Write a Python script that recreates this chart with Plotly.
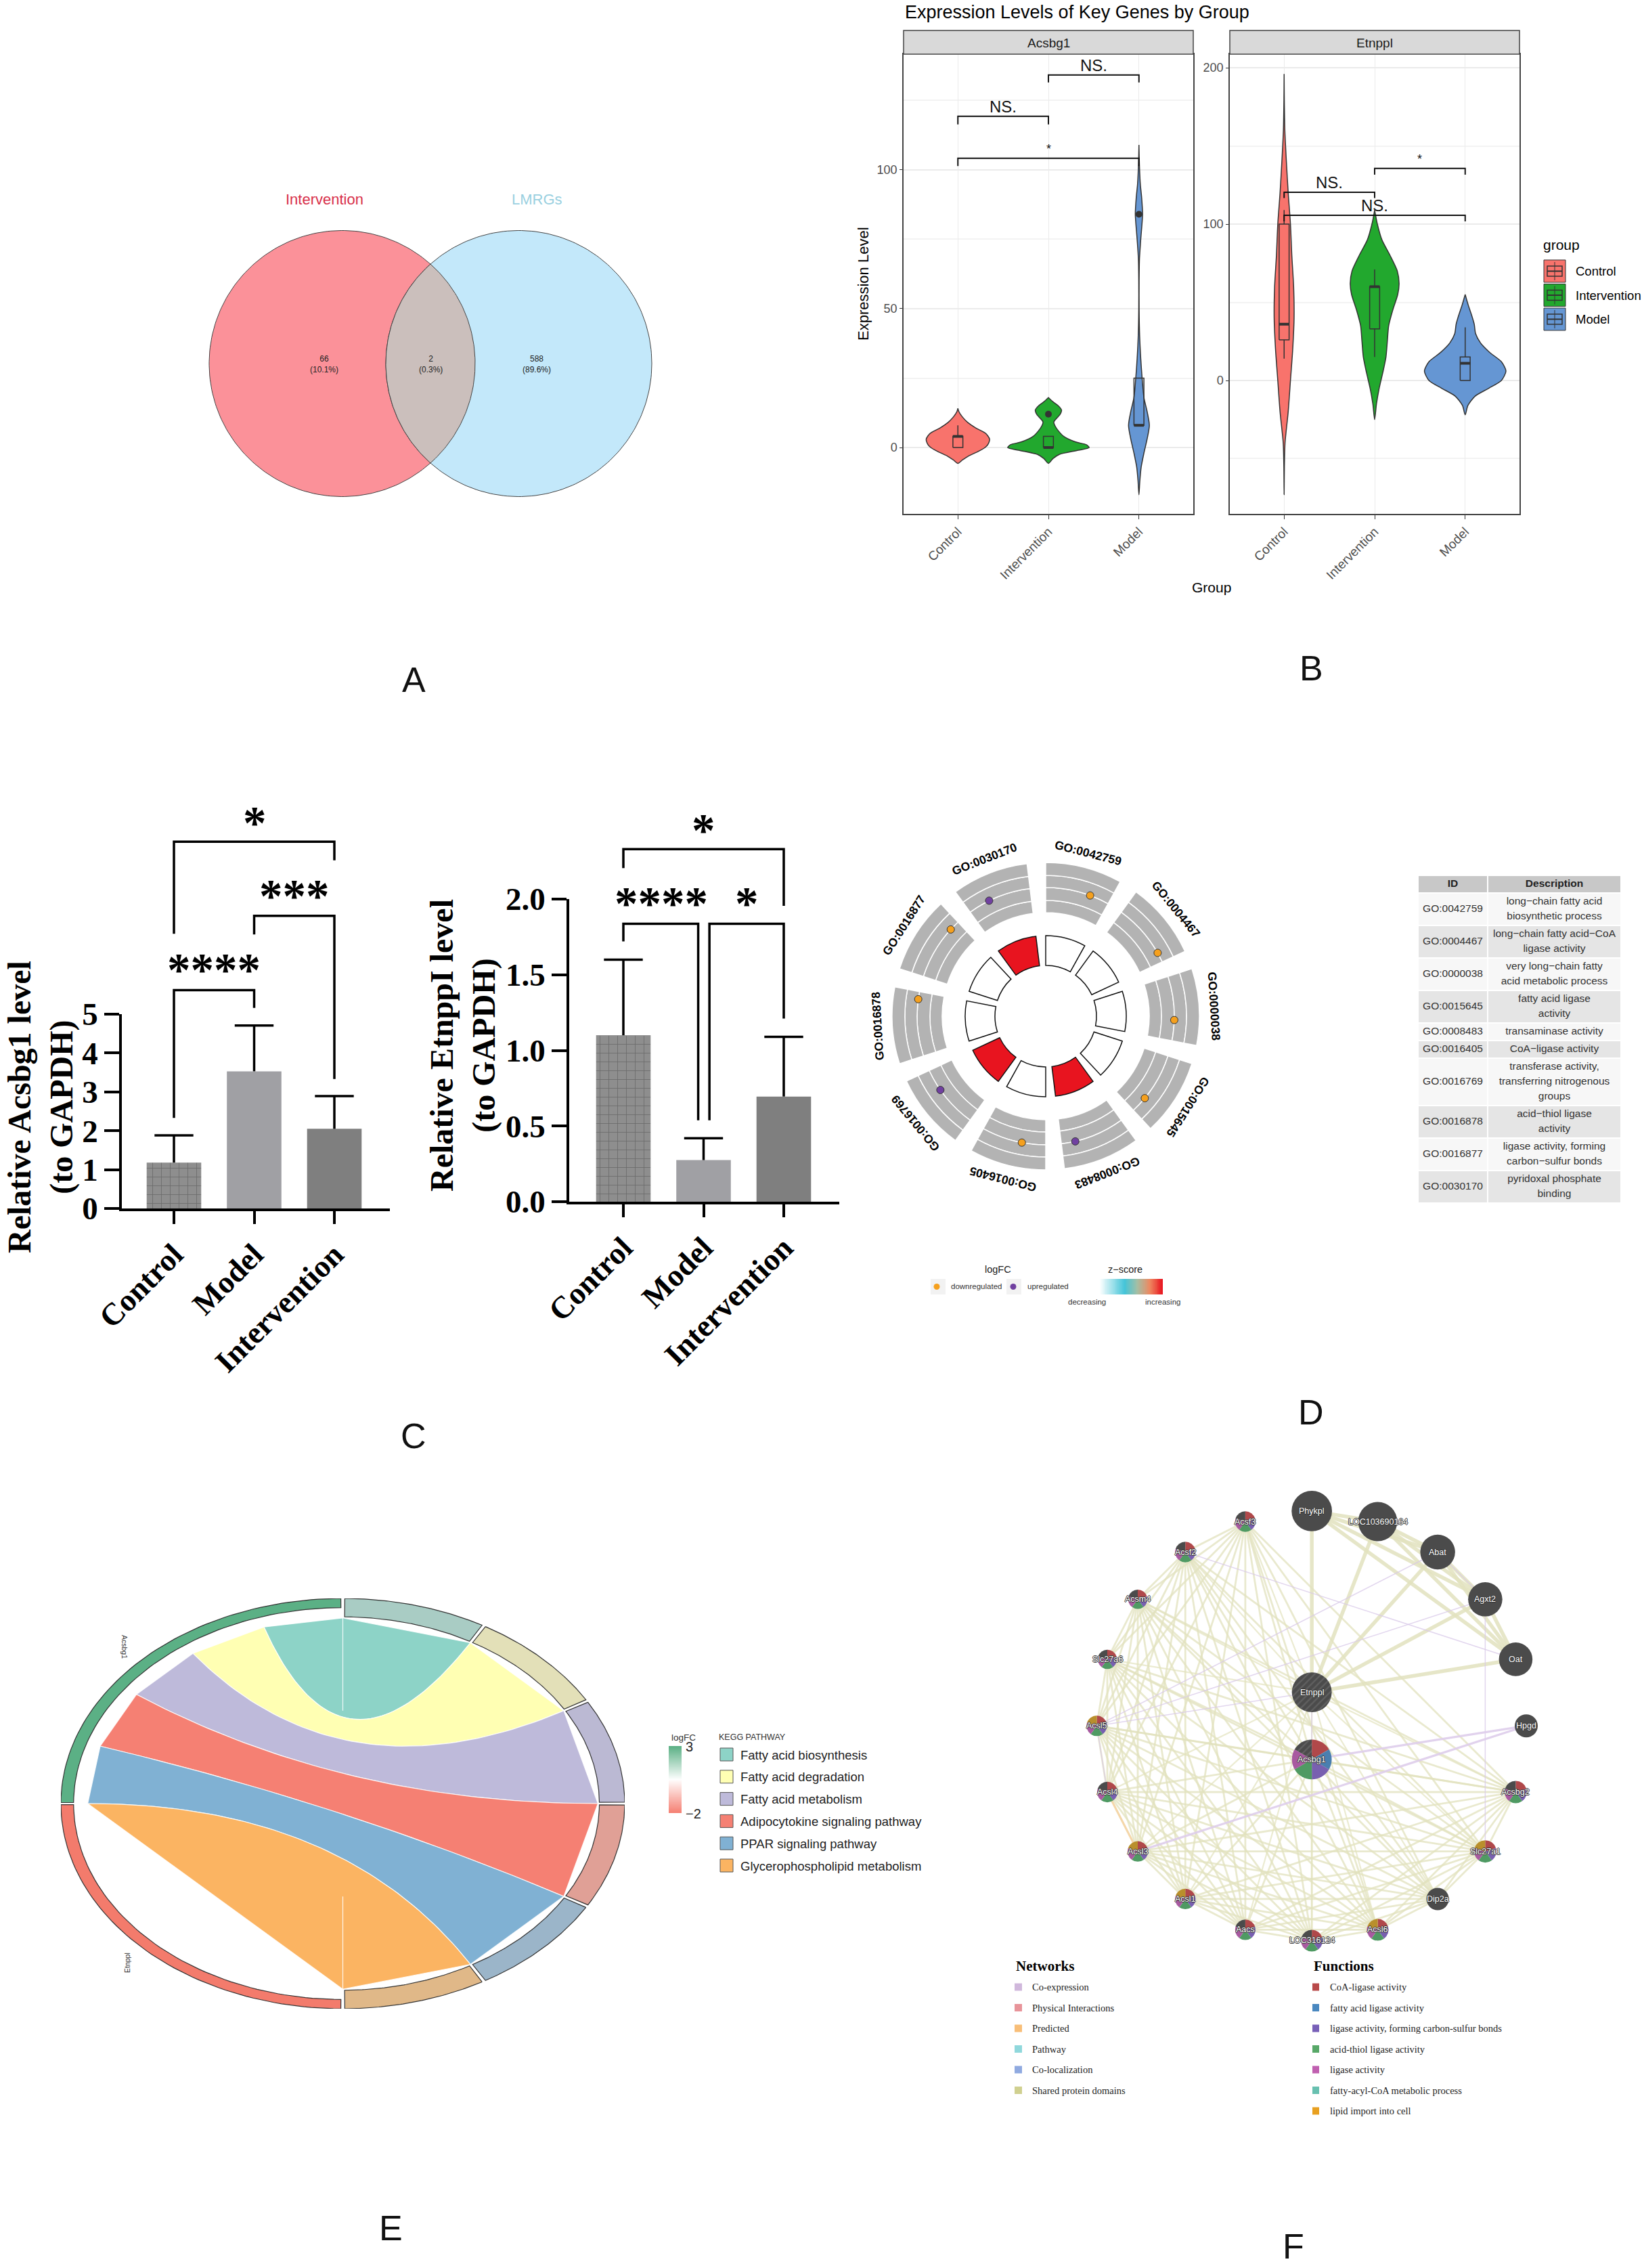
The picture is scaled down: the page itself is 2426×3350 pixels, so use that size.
import numpy as np
import plotly.graph_objects as go

W, H = 2426, 3350
SANS = "Liberation Sans"
SERIF = "Liberation Serif"

# ---------- A: venn
venn_sets = ["Intervention", "LMRGs"]
venn_counts = [66, 2, 588]
venn_pcts = ["10.1%", "0.3%", "89.6%"]

# ---------- B: violins, (value, half width)
groups = ["Control", "Intervention", "Model"]
group_colors = ["#F8736C", "#22A82E", "#6596D3"]

a_ctrl_y = [-5.7, -4.5, -3, -1.5, 0, 1, 3, 5, 7, 9, 11, 13, 14.1]
a_ctrl_w = [0, .05, .12, .22, .3, .33, .35, .31, .2, .11, .05, .01, 0]
a_int_y = [-5.7, -4, -2.5, -1, 0, 1, 2, 4, 6, 8, 9.2, 10.5, 12, 13.5, 15, 16.5, 18]
a_int_w = [0, .05, .12, .33, .45, .42, .3, .17, .11, .07, .06, .09, .13, .145, .11, .05, 0]
a_mod_y = [-17, -12, -7, -2, 3, 8, 13, 18, 25, 32, 40, 50, 60, 68, 75, 84, 90, 95, 102, 109]
a_mod_w = [0, .01, .025, .055, .09, .115, .09, .055, .035, .02, .008, .002, .002, .006, .02, .04, .03, .015, .005, 0]

e_ctrl_y = [-73, -55, -40, -20, 0, 20, 40, 60, 80, 100, 120, 140, 160, 180, 196]
e_ctrl_w = [0, .003, .01, .045, .07, .095, .11, .105, .085, .07, .045, .025, .008, .002, 0]
e_int_y = [-25, -15, -5, 5, 15, 25, 35, 45, 55, 62, 70, 80, 90, 100, 109]
e_int_w = [0, .02, .05, .09, .125, .14, .155, .2, .255, .27, .25, .17, .08, .03, 0]
e_mod_y = [-22, -16, -10, -5, 0, 6, 12, 18, 24, 30, 36, 42, 48, 55]
e_mod_w = [0, .03, .11, .26, .4, .45, .4, .27, .17, .115, .1, .07, .035, 0]

# q1, median, q3, low, high
a_q1 = [0, 0, 8]
a_med = [4, 0, 8]
a_q3 = [4, 4, 25]
a_low = [0, 0, 8]
a_high = [8, 4, 25]
a_outlier_x = [2, 3]
a_outlier_y = [12, 84]
e_q1 = [26, 33, 0]
e_med = [36, 60, 11]
e_q3 = [100, 60, 15]
e_low = [14, 15, 0]
e_high = [109, 71, 34]

# from, to, height, drop height, label
a_brackets = [(1, 3, 104.2, 101.4, "*"), (1, 2, 119.3, 116.4, "NS."), (2, 3, 134.2, 131.5, "NS.")]
e_brackets = [(1, 3, 105.7, 101.7, "NS."), (1, 2, 120.4, 116.7, "NS."), (2, 3, 135.6, 131.6, "*")]

# ---------- C: bars
bar_names = ["Control", "Model", "Intervention"]
acsbg1_mean = [1.18, 3.53, 2.05]
acsbg1_sd = [.70, 1.18, .84]
etnppl_mean = [1.10, .275, .695]
etnppl_sd = [.50, .145, .395]
bar_colors = ["#8E8E8E", "#A0A0A4", "#7F7F7F"]

# ---------- D: GO circle
go_ids = ["GO:0042759", "GO:0004467", "GO:0000038", "GO:0015645", "GO:0008483",
          "GO:0016405", "GO:0016769", "GO:0016878", "GO:0016877", "GO:0030170"]
go_desc = ["long\u2212chain fatty acid<br>biosynthetic process", "long\u2212chain fatty acid\u2212CoA<br>ligase activity",
           "very long\u2212chain fatty<br>acid metabolic process", "fatty acid ligase<br>activity", "transaminase activity",
           "CoA\u2212ligase activity", "transferase activity,<br>transferring nitrogenous<br>groups",
           "acid\u2212thiol ligase<br>activity", "ligase activity, forming<br>carbon\u2212sulfur bonds",
           "pyridoxal phosphate<br>binding"]
go_zscore_red = [0, 0, 0, 0, 1, 0, 1, 0, 0, 1]
go_dot_offset = [20.2, 24.5, 19.7, 21.6, 22.7, 10.7, 19, 25.6, 24.4, 9.9]
go_dot_up = [0, 0, 0, 0, 1, 0, 1, 0, 0, 1]
go_band_edges = [153, 171, 190, 208, 227]

# ---------- E: chord
pathways = ["Fatty acid biosynthesis", "Fatty acid degradation", "Fatty acid metabolism",
            "Adipocytokine signaling pathway", "PPAR signaling pathway", "Glycerophospholipid metabolism"]
pathway_gene = ["Acsbg1", "Acsbg1", "Acsbg1", "Acsbg1", "Acsbg1", "Etnppl"]
pathway_colors = ["#8DD3C7", "#FFFFB3", "#BEBADA", "#F58073", "#80B1D3", "#FBB462"]
pathway_ring = ["#A9CCC4", "#E3E0B8", "#BBB9D3", "#E0A096", "#9BB5C9", "#E0B888"]
gene_colors = {"Acsbg1": "#5BB085", "Etnppl": "#F37B6C"}

# ---------- F: network
node_names = ["Phykpl", "LOC103690164", "Abat", "Agxt2", "Oat", "Hpgd", "Acsbg2", "Slc27a1", "Dip2a", "Acsl6",
              "LOC316124", "Aacs", "Acsl1", "Acsl3", "Acsl4", "Acsl5", "Slc27a6", "Acsm4", "Acsf2", "Acsf3",
              "Etnppl", "Acsbg1"]
node_x = [780, 992, 1185, 1338, 1436, 1470, 1436, 1338, 1185, 992, 780, 566, 373, 220, 122, 88, 122, 220, 373, 566, 780, 780]
node_y = [113, 147, 245, 397, 590, 804, 1017, 1208, 1361, 1460, 1495, 1460, 1361, 1208, 1017, 804, 590, 397, 245, 147, 696, 912]
node_r = [65, 63, 56, 55, 54, 37, 36, 36, 36, 35, 35, 33, 33, 33, 33, 33, 31, 31, 33, 33, 64, 64]
lipid_nodes = ["Acsf3", "Acsf2", "Acsm4", "Slc27a6", "Acsl5", "Acsl4", "Acsl3", "Acsl1", "Aacs", "LOC316124",
               "Acsl6", "Dip2a", "Slc27a1", "Acsbg2", "Acsbg1"]
amine_nodes = ["Phykpl", "LOC103690164", "Abat", "Agxt2", "Oat", "Etnppl"]
etnppl_edges = [("Etnppl", n) for n in ["Acsbg2", "Slc27a1", "Dip2a", "Acsl6", "LOC316124", "Aacs", "Acsl1", "Acsl3", "Acsl4", "Slc27a6", "Acsm4", "Acsf2", "Acsf3"]]
hpgd_edges = [("Acsbg1", "Hpgd"), ("Acsl3", "Hpgd")]
purple_edges = [("Acsl5", "Abat"), ("Acsl5", "Agxt2"), ("Acsf2", "Oat"), ("Agxt2", "Slc27a1"), ("Abat", "Agxt2"),
                ("Acsl5", "Etnppl"), ("Acsl5", "Acsl4"), ("Etnppl", "Acsbg1")]
orange_edges = [("Acsl4", "Acsl3")]
plain_pie = ["Acsf3", "Acsf2", "Acsm4", "Slc27a6", "Acsl4", "Aacs", "LOC316124", "Acsbg2"]
orange_pie = ["Acsl5", "Acsl3", "Acsl1", "Acsl6", "Slc27a1"]
network_legend = ["Co-expression", "Physical Interactions", "Predicted", "Pathway", "Co-localization", "Shared protein domains"]
network_colors = ["#D0B8DC", "#E8949A", "#F8BE78", "#90D8DC", "#90AAE0", "#D0D090"]
function_legend = ["CoA-ligase activity", "fatty acid ligase activity", "ligase activity, forming carbon-sulfur bonds",
                   "acid-thiol ligase activity", "ligase activity", "fatty-acyl-CoA metabolic process", "lipid import into cell"]
function_colors = ["#B84A4A", "#4A88C0", "#7860B8", "#58A868", "#C060B0", "#68C0B0", "#E8A020"]

fig = go.Figure()
layout_axes = {}
annots = []
shapes = []
axis_no = [0]


def dom(a, b, size):
    return [a / size, b / size]


def new_axes(x0, x1, y0, y1, xopts=None, yopts=None):
    axis_no[0] += 1
    n = axis_no[0]
    hidden = dict(visible=False, fixedrange=True)
    xo = dict(hidden) if xopts is None else dict(xopts)
    yo = dict(hidden) if yopts is None else dict(yopts)
    xo.update(domain=dom(x0, x1, W), anchor="y%d" % n)
    yo.update(domain=[1 - y1 / H, 1 - y0 / H], anchor="x%d" % n)
    layout_axes["xaxis%d" % n] = xo
    layout_axes["yaxis%d" % n] = yo
    return "x%d" % n, "y%d" % n


def txt(x, y, text, size, color="#000000", family=SANS, angle=0, anchor="center", shadow=None):
    font = dict(size=size, color=color, family=family)
    if shadow:
        font["shadow"] = shadow
    annots.append(dict(xref="paper", yref="paper", x=x / W, y=1 - y / H, text=text, showarrow=False,
                       font=font, textangle=angle, xanchor=anchor, yanchor="middle", align="center"))


def rect(x0, y0, x1, y1, fill, line=None, lw=1, layer="above"):
    shapes.append(dict(type="rect", xref="paper", yref="paper", x0=x0 / W, x1=x1 / W, y0=1 - y0 / H, y1=1 - y1 / H, layer=layer,
                       fillcolor=fill, line=dict(color=line, width=lw) if line else dict(width=0)))


# ---------- A
xa, ya = new_axes(300, 970, 330, 745, dict(visible=False, range=[300, 970]), dict(visible=False, range=[745, 330]))
tt = np.linspace(0, 2 * np.pi, 240)
ax1, ax2, ay0, aa, ab = 505.5, 766.5, 537, 196.5, 196.5
fig.add_trace(go.Scatter(x=ax1 + aa * np.cos(tt), y=ay0 + ab * np.sin(tt), fill="toself", fillcolor="#FB9199", mode="lines",
                         line=dict(color="#444444", width=1), xaxis=xa, yaxis=ya))
fig.add_trace(go.Scatter(x=ax2 + aa * np.cos(tt), y=ay0 + ab * np.sin(tt), fill="toself", fillcolor="#C3E8FA", mode="lines",
                         line=dict(color="#444444", width=1), xaxis=xa, yaxis=ya))
half = np.arccos((ax2 - ax1) / 2 / aa)
t1 = np.linspace(-half, half, 100)
t2 = np.linspace(np.pi - half, np.pi + half, 100)
fig.add_trace(go.Scatter(x=np.r_[ax1 + aa * np.cos(t1), ax2 + aa * np.cos(t2)], y=np.r_[ay0 + ab * np.sin(t1), ay0 + ab * np.sin(t2)],
                         fill="toself", fillcolor="#CBBFBC", mode="lines", line=dict(color="#444444", width=1), xaxis=xa, yaxis=ya))
txt(479, 295, venn_sets[0], 22, "#D8304A")
txt(793, 295, venn_sets[1], 22, "#9AD0E0")
for x_pos, c, p in zip([479, 636, 793], venn_counts, venn_pcts):
    txt(x_pos, 538, "%d<br>(%s)" % (c, p), 12, "#222222")


# ---------- B
def violin_axes(x0, rng, ticks, minor):
    xo = dict(range=[.4, 3.6], tickvals=[1, 2, 3], ticktext=groups, tickangle=-45, ticks="outside", ticklen=6, tickcolor="#333333",
              tickfont=dict(size=19, color="#4D4D4D", family=SANS), showgrid=True, gridcolor="#EBEBEB", zeroline=False,
              showline=True, mirror=True, linecolor="#444444", linewidth=1.5)
    yo = dict(range=rng, tickvals=ticks, ticks="outside", ticklen=4, tickcolor="#333333", tickfont=dict(size=18, color="#4D4D4D", family=SANS),
              showgrid=True, gridcolor="#EBEBEB", gridwidth=1.5, zeroline=False, showline=True, mirror=True, linecolor="#444444", linewidth=1.5,
              minor=dict(tickvals=minor, showgrid=True, gridcolor="#F3F3F3", ticks=""))
    return new_axes(x0, x0 + 428, 80, 759, xo, yo)


def violin_panel(x0, rng, ticks, minor, profiles, q1, med, q3, low, high, brackets, out_x=None, out_y=None):
    xn, yn = violin_axes(x0, rng, ticks, minor)
    for i, (py, pw) in enumerate(profiles):
        c = i + 1
        xs = [c + w for w in pw] + [c - w for w in pw[::-1]]
        ys = list(py) + list(py[::-1])
        fig.add_trace(go.Scatter(x=xs, y=ys, fill="toself", fillcolor=group_colors[i], mode="lines",
                                 line=dict(color="#333333", width=1.5, shape="spline", smoothing=.7), xaxis=xn, yaxis=yn))
        # box and whiskers as a drawn outline, the thick median goes on top
        bw = .055
        fig.add_trace(go.Scatter(x=[c - bw, c + bw, c + bw, c - bw, c - bw, None, c, c, None, c, c],
                                 y=[q1[i], q1[i], q3[i], q3[i], q1[i], None, q3[i], high[i], None, q1[i], low[i]],
                                 mode="lines", line=dict(color="#333333", width=1.5), xaxis=xn, yaxis=yn))
        fig.add_trace(go.Scatter(x=[c - bw, c + bw], y=[med[i], med[i]], mode="lines", line=dict(color="#333333", width=4), xaxis=xn, yaxis=yn))
    if out_x:
        fig.add_trace(go.Scatter(x=out_x, y=out_y, mode="markers", marker=dict(color="#333333", size=10), xaxis=xn, yaxis=yn))
    for a, b, top, drop, label in brackets:
        fig.add_trace(go.Scatter(x=[a, a, b, b], y=[drop, top, top, drop], mode="lines", line=dict(color="#111111", width=2), xaxis=xn, yaxis=yn))
        step = (rng[1] - rng[0]) / 679
        annots.append(dict(xref=xn, yref=yn, x=(a + b) / 2, y=top + 14 * step, text=label, showarrow=False,
                           font=dict(size=24 if label != "*" else 18, color="#111111", family=SANS), yanchor="middle"))


violin_panel(1335, [-23.9, 141.7], [0, 50, 100], [25, 75, 125],
             [(a_ctrl_y, a_ctrl_w), (a_int_y, a_int_w), (a_mod_y, a_mod_w)], a_q1, a_med, a_q3, a_low, a_high, a_brackets, a_outlier_x, a_outlier_y)
violin_panel(1817, [-85.3, 208.7], [0, 100, 200], [-50, 50, 150],
             [(e_ctrl_y, e_ctrl_w), (e_int_y, e_int_w), (e_mod_y, e_mod_w)], e_q1, e_med, e_q3, e_low, e_high, e_brackets)
rect(1335, 45, 1763, 80, "#D9D9D9", "#444444", 1.5)
rect(1817, 45, 2245, 80, "#D9D9D9", "#444444", 1.5)
txt(1549, 63, "Acsbg1", 19, "#1A1A1A")
txt(2031, 63, "Etnppl", 19, "#1A1A1A")
txt(1335, 18, "Expression Levels of Key Genes by Group", 27, anchor="left")
txt(1276, 419, "Expression Level", 22, angle=-90)
txt(1790, 867, "Group", 21)
txt(2278, 362, "group", 21, anchor="left")
for i, (g, c) in enumerate(zip(groups, group_colors)):
    y0 = 384 + i * 35.5
    rect(2281, y0, 2313, y0 + 33, c, "#333333", 1)
    rect(2286, y0 + 9, 2308, y0 + 24, c, "#333333", 1.5)
    shapes.append(dict(type="line", xref="paper", yref="paper", x0=2297 / W, x1=2297 / W, y0=1 - (y0 + 3) / H, y1=1 - (y0 + 30) / H, line=dict(color="#333333", width=1)))
    shapes.append(dict(type="line", xref="paper", yref="paper", x0=2286 / W, x1=2308 / W, y0=1 - (y0 + 16.5) / H, y1=1 - (y0 + 16.5) / H, line=dict(color="#333333", width=2)))
    txt(2326, y0 + 16.5, g, 18.5, anchor="left")


# ---------- C
def bar_panel(x_left, x_right, tick0, y0, y5, ymax, ticks, tickfmt, means, sds, brackets, ext):
    xo = dict(range=[(x_left - tick0) / 118.5, (x_right - tick0) / 118.5], tickvals=[0, 1, 2], ticktext=bar_names, tickangle=-45,
              ticks="outside", ticklen=19, tickwidth=3.5, tickcolor="#000000", showline=True, linecolor="#000000", linewidth=3.5,
              showgrid=False, zeroline=False, tickfont=dict(size=46, family=SERIF, color="#000000", weight="bold"))
    yo = dict(range=[0, ymax], tickvals=ticks, ticktext=[tickfmt % t for t in ticks], ticks="outside", ticklen=22, tickwidth=3.5, tickcolor="#000000",
              showline=True, linecolor="#000000", linewidth=3.5, showgrid=False, zeroline=False,
              tickfont=dict(size=47, family=SERIF, color="#000000", weight="bold"))
    xn, yn = new_axes(x_left, x_right, y5, y0, xo, yo)
    fig.add_trace(go.Bar(x=[0, 1, 2], y=means, width=.68, xaxis=xn, yaxis=yn,
                         marker=dict(color=bar_colors, line=dict(width=0),
                                     pattern=dict(shape=["+", "", ""], fgcolor="#666666", bgcolor=["#979797", bar_colors[1], bar_colors[2]], size=13, solidity=.12))))
    # upper error bars only, a plotly error bar would also put a cap on the bar top
    tops = [m + s for m, s in zip(means, sds)]
    ex, ey = [], []
    for i, (m, t) in enumerate(zip(means, tops)):
        ex += [i, i, None]
        ey += [m, t, None]
    fig.add_trace(go.Scatter(x=ex, y=ey, mode="lines", line=dict(color="#000000", width=3.5), xaxis=xn, yaxis=yn))
    fig.add_trace(go.Scatter(x=[0, 1, 2], y=tops, mode="markers", marker=dict(symbol="line-ew", size=41, line=dict(color="#000000", width=3.5)), xaxis=xn, yaxis=yn))
    # brackets sit above the axis top, so they get a taller hidden axis on the same scale
    ytop = y0 - ext * (y0 - y5) / ymax
    xb, yb = new_axes(x_left, x_right, ytop, y0, dict(visible=False, range=xo["range"]), dict(visible=False, range=[0, ext]))
    for bx, by in brackets:
        fig.add_trace(go.Scatter(x=bx, y=by, mode="lines", line=dict(color="#000000", width=3.5), xaxis=xb, yaxis=yb))


bar_panel(180, 576, 257, 1785, 1498, 5, [0, 1, 2, 3, 4, 5], "%d", acsbg1_mean, acsbg1_sd,
          [([0, 0, 2, 2], [7.07, 9.44, 9.44, 8.96]), ([1, 1, 2, 2], [7.05, 7.53, 7.53, 3.33]), ([0, 0, 1, 1], [2.33, 5.62, 5.62, 5.16])], 10)
bar_panel(841, 1240, 921, 1775, 1328, 2, [0, .5, 1, 1.5, 2], "%.1f", etnppl_mean, etnppl_sd,
          [([0, 0, 2, 2], [2.205, 2.33, 2.33, 1.955]), ([0, 0, .933, .933], [1.72, 1.837, 1.837, .538]), ([1.073, 1.073, 2, 2], [.538, 1.837, 1.837, 1.21])], 2.5)
txt(60, 1635, "<b>Relative Acsbg1 level<br>(to GAPDH)</b>", 48, family=SERIF, angle=-90)
txt(684, 1544, "<b>Relative EtnppI level<br>(to GAPDH)</b>", 48, family=SERIF, angle=-90)
for sx, sy, s in [(376, 1206, "*"), (435, 1314, "***"), (316, 1423, "****"), (1039, 1217, "*"), (977, 1325, "****"), (1103, 1325, "*")]:
    txt(sx, sy + 10, "<b>%s</b>" % s, 69, family=SERIF)

# ---------- D
dcx, dcy, dR = 1545, 1501, 228
thetas = [36 * i + 14.5 for i in range(10)]
for lo, hi in zip(go_band_edges[:-1], go_band_edges[1:]):
    fig.add_trace(go.Barpolar(r=[hi - lo] * 10, base=[lo] * 10, theta=thetas, width=[29] * 10,
                              marker=dict(color="#B3B3B3", line=dict(color="#FFFFFF", width=1.5)), subplot="polar"))
fig.add_trace(go.Barpolar(r=[44] * 10, base=[75] * 10, theta=thetas, width=[29] * 10,
                          marker=dict(color=["#E8141F" if v else "#FFFFFF" for v in go_zscore_red], line=dict(color="#111111", width=1.5)), subplot="polar"))
fig.add_trace(go.Scatterpolar(r=[190] * 10, theta=[36 * i + o for i, o in enumerate(go_dot_offset)], mode="markers",
                              marker=dict(size=11, color=["#7040A0" if u else "#F5A01E" for u in go_dot_up], line=dict(color="#333333", width=1)), subplot="polar"))
for i, gid in enumerate(go_ids):
    th = 36 * i + 14.6
    txt(dcx + 249 * np.sin(np.radians(th)), dcy - 249 * np.cos(np.radians(th)), "<b>%s</b>" % gid, 17.5, angle=th)
rect(1375, 1889, 1397, 1912, "#F2F2F2", layer="below")
rect(1487, 1889, 1509, 1912, "#F2F2F2", layer="below")
xn, yn = new_axes(1375, 1509, 1889, 1912, dict(visible=False, range=[1375, 1509]), dict(visible=False, range=[1912, 1889]))
fig.add_trace(go.Scatter(x=[1384, 1497], y=[1900.5, 1900.5], mode="markers", marker=dict(size=9, color=["#F5A01E", "#7040A0"]), xaxis=xn, yaxis=yn))
txt(1475, 1875, "logFC", 14.5, "#222222")
txt(1662, 1875, "z\u2212score", 14.5, "#222222")
txt(1403, 1900, "downregulated", 11.5, "#333333", anchor="left")
txt(1516, 1900, "upregulated", 11.5, "#333333", anchor="left")
txt(1606, 1923, "decreasing", 11.5, "#333333")
txt(1718, 1923, "increasing", 11.5, "#333333")
xn, yn = new_axes(1624, 1718, 1889, 1912)
fig.add_trace(go.Heatmap(z=[np.linspace(0, 1, 100)], colorscale=[[0, "#FFFFFF"], [.4, "#43C4D8"], [.6, "#A5BFA5"], [.8, "#EE8860"], [1, "#E8141F"]], showscale=False, xaxis=xn, yaxis=yn))

# table, row heights follow the number of text lines
xn, yn = new_axes(2096, 2394, 1294, 1780, dict(visible=False, range=[2096, 2394]), dict(visible=False, range=[1780, 1294]))
row_top = 1320
centers, heights = [], []
for d in go_desc:
    h = 22 * (d.count("<br>") + 1) + 2
    centers.append(row_top + h / 2)
    heights.append(h)
    row_top += h + 2
row_fill = ["#F7F7F7" if i % 2 == 0 else "#E5E5E5" for i in range(10)]
for base, width, head in [(2096, 101, "<b>ID</b>"), (2199, 195, "<b>Description</b>")]:
    fig.add_trace(go.Bar(orientation="h", y=[1306] + centers, x=[width] * 11, base=[base] * 11, width=[24] + heights,
                         marker=dict(color=["#C8C8C8"] + row_fill, line=dict(width=0)), xaxis=xn, yaxis=yn))
    fig.add_trace(go.Scatter(x=[base + width / 2], y=[1306], mode="text", text=[head], textfont=dict(size=15.5, color="#222222", family=SANS), xaxis=xn, yaxis=yn))
fig.add_trace(go.Scatter(x=[2146.5] * 10, y=centers, mode="text", text=go_ids, textfont=dict(size=15.5, color="#333333", family=SANS), xaxis=xn, yaxis=yn))
dx, dy, dt = [], [], []
for c, d in zip(centers, go_desc):
    lines = d.split("<br>")
    for k, line in enumerate(lines):
        dx.append(2296.5)
        dy.append(c + (k - (len(lines) - 1) / 2) * 22)
        dt.append(line)
fig.add_trace(go.Scatter(x=dx, y=dy, mode="text", text=dt, textfont=dict(size=15.5, color="#333333", family=SANS), xaxis=xn, yaxis=yn))

# ---------- E
xn, yn = new_axes(90, 923, 2361, 2967, dict(visible=False, range=[-1, 1]), dict(visible=False, range=[-1, 1]))


def pol(r, deg):
    a = np.radians(deg)
    return r * np.sin(a), r * np.cos(a)


def bez(d0, d1, r=.905):
    p0 = np.array(pol(r, d0))
    p2 = np.array(pol(r, d1))
    s = np.linspace(0, 1, 60)
    return (1 - s) ** 2 * p0[0] + s ** 2 * p2[0], (1 - s) ** 2 * p0[1] + s ** 2 * p2[1]


def ring(d0, d1, r0, r1, fill):
    a = np.linspace(d0, d1, 60)
    x1, y1 = pol(r1, a)
    x0, y0 = pol(r0, a[::-1])
    fig.add_trace(go.Scatter(x=np.r_[x1, x0, x1[0]], y=np.r_[y1, y0, y1[0]], fill="toself", fillcolor=fill, mode="lines",
                             line=dict(color="#333333", width=1.2), xaxis=xn, yaxis=yn))


n_gene = {g: pathway_gene.count(g) for g in gene_colors}
gene_start = {"Acsbg1": 0, "Etnppl": -90}
used = {g: 0 for g in gene_colors}
for i, p in enumerate(pathways):
    g = pathway_gene[i]
    span = 90 / n_gene[g]
    s_near = gene_start[g] - used[g] * span
    s_far = s_near - span
    used[g] += 1
    t0, t1 = 30 * i, 30 * (i + 1)
    ox, oy = bez(s_far, t1)
    ix, iy = bez(t0, s_near)
    fig.add_trace(go.Scatter(x=np.r_[ox, ix, ox[0]], y=np.r_[oy, iy, oy[0]], fill="toself", fillcolor=pathway_colors[i], mode="lines",
                             line=dict(color="rgba(255,255,255,.85)", width=1.2), xaxis=xn, yaxis=yn))
    ring(t0 + .4, t1 - .4, .91, 1, pathway_ring[i])
ring(-.4, -89.7, .955, 1, gene_colors["Acsbg1"])
ring(-90.3, -179.6, .955, 1, gene_colors["Etnppl"])
txt(184, 2432, "Acsbg1", 10.5, "#333333", angle=90)
txt(188, 2899, "Etnppl", 10.5, "#333333", angle=-90)
xn, yn = new_axes(988, 1007, 2579, 2678)
fig.add_trace(go.Heatmap(z=[[v] for v in np.linspace(0, 1, 100)], colorscale=[[0, "#F58073"], [.5, "#FFFFFF"], [1, "#5BB085"]], showscale=False, xaxis=xn, yaxis=yn))
txt(1010, 2566, "logFC", 13.5, "#333333")
txt(1019, 2580, "3", 20, "#222222", anchor="center")
txt(1024, 2679, "\u22122", 20, "#222222")
txt(1060, 2566, "KEGG PATHWAY", 12.5, "#333333", anchor="left")
for i, (p, c) in enumerate(zip(pathways, pathway_colors)):
    yc = 2592 + i * 32.8
    rect(1064, yc - 10, 1083, yc + 9, c, "#555555", 1)
    txt(1092, yc, p, 18.5, "#222222", anchor="left")

# ---------- F
xn, yn = new_axes(1580, 2300, 2180, 2900, dict(visible=False, range=[0, 1568]), dict(visible=False, range=[1568, 0]))
pos = {n: (x, y) for n, x, y in zip(node_names, node_x, node_y)}


def edge_trace(pairs, color, width):
    ex, ey = [], []
    for a, b in pairs:
        ex += [pos[a][0], pos[b][0], None]
        ey += [pos[a][1], pos[b][1], None]
    fig.add_trace(go.Scatter(x=ex, y=ey, mode="lines", line=dict(color=color, width=width), xaxis=xn, yaxis=yn))


def all_pairs(nodes):
    return [(a, b) for i, a in enumerate(nodes) for b in nodes[i + 1:]]


edge_trace(all_pairs(lipid_nodes), "rgba(226,226,190,.75)", 2.8)
edge_trace(etnppl_edges, "rgba(226,226,190,.7)", 2.2)
edge_trace(all_pairs(amine_nodes), "rgba(226,226,190,.85)", 5.5)
edge_trace(purple_edges, "rgba(216,200,232,.75)", 1.5)
edge_trace(hpgd_edges, "rgba(222,205,235,.9)", 3.2)
edge_trace(orange_edges, "rgba(248,210,160,.8)", 3)

plain = [n for n in node_names if n not in plain_pie + orange_pie + ["Etnppl", "Acsbg1"]]
fig.add_trace(go.Scatter(x=[pos[n][0] for n in plain], y=[pos[n][1] for n in plain], mode="markers", xaxis=xn, yaxis=yn,
                         marker=dict(size=[2 * node_r[node_names.index(n)] * 720 / 1568 for n in plain], color="#4B4B4B", opacity=1, line=dict(width=0))))
DARK, RED, BLUE, PURP, GRN, MAG, ORG = "#4B4B4B", "#B0484A", "#4A7FAF", "#7860B0", "#4F9A63", "#A85AA0", "#B98F2C"
pie_slices = {}
for n in plain_pie:
    pie_slices[n] = [RED, PURP, GRN, MAG, DARK]
for n in orange_pie:
    pie_slices[n] = [RED, PURP, GRN, MAG, ORG]
pie_slices["Acsbg1"] = [RED, BLUE, PURP, GRN, MAG, DARK]
pie_slices["Etnppl"] = [DARK]
for n, cols in pie_slices.items():
    i = node_names.index(n)
    s = 720 / 1568
    cx, cy, r = 1580 + node_x[i] * s, 2180 + node_y[i] * s, node_r[i] * s
    shp = ["/" if c == DARK and n in ("Etnppl", "Acsbg1") else "" for c in cols]
    fig.add_trace(go.Pie(values=[1] * len(cols), sort=False, direction="clockwise", rotation=0, textinfo="none", showlegend=False,
                         domain=dict(x=dom(cx - r, cx + r, W), y=[1 - (cy + r) / H, 1 - (cy - r) / H]),
                         marker=dict(colors=cols, line=dict(width=0), pattern=dict(shape=shp, fgcolor="#626262", bgcolor=cols, size=7, solidity=.3))))
halo = "-1px 0 #333, 1px 0 #333, 0 1px #333, 0 -1px #333"
for n, x, y in zip(node_names, node_x, node_y):
    txt(1580 + x * 720 / 1568, 2180 + y * 720 / 1568, n, 12.5, "#FFFFFF", shadow=halo)

txt(1499, 2904, "<b>Networks</b>", 21, family=SERIF, anchor="left")
txt(1939, 2904, "<b>Functions</b>", 21, family=SERIF, anchor="left")
for i, (lab, c) in enumerate(zip(network_legend, network_colors)):
    yc = 2935 + i * 30.5
    rect(1499, yc - 5.5, 1510, yc + 5.5, c)
    txt(1523, yc, lab, 14.5, "#222222", SERIF, anchor="left")
for i, (lab, c) in enumerate(zip(function_legend, function_colors)):
    yc = 2935 + i * 30.5
    rect(1939, yc - 5.5, 1949, yc + 5.5, c)
    txt(1963, yc, lab, 14.5, "#222222", SERIF, anchor="left")

# panel letters
for s, x, y in [("A", 611, 1004), ("B", 1937, 987), ("C", 611, 2121), ("D", 1937, 2086), ("E", 577, 3291), ("F", 1911, 3318)]:
    txt(x, y, s, 52, "#111111")

fig.update_layout(width=W, height=H, margin=dict(l=0, r=0, t=0, b=0, pad=0, autoexpand=False), paper_bgcolor="#FFFFFF", plot_bgcolor="rgba(0,0,0,0)",
                  showlegend=False, barmode="overlay", annotations=annots, shapes=shapes, font=dict(family=SANS),
                  polar=dict(domain=dict(x=dom(dcx - dR, dcx + dR, W), y=[1 - (dcy + dR) / H, 1 - (dcy - dR) / H]),
                             bgcolor="rgba(0,0,0,0)", barmode="overlay",
                             radialaxis=dict(visible=False, range=[0, dR]),
                             angularaxis=dict(visible=False, direction="clockwise", rotation=90)),
                  **layout_axes)
fig.write_html("out.html", post_script="document.body.style.margin='0';", config={"displayModeBar": False})
